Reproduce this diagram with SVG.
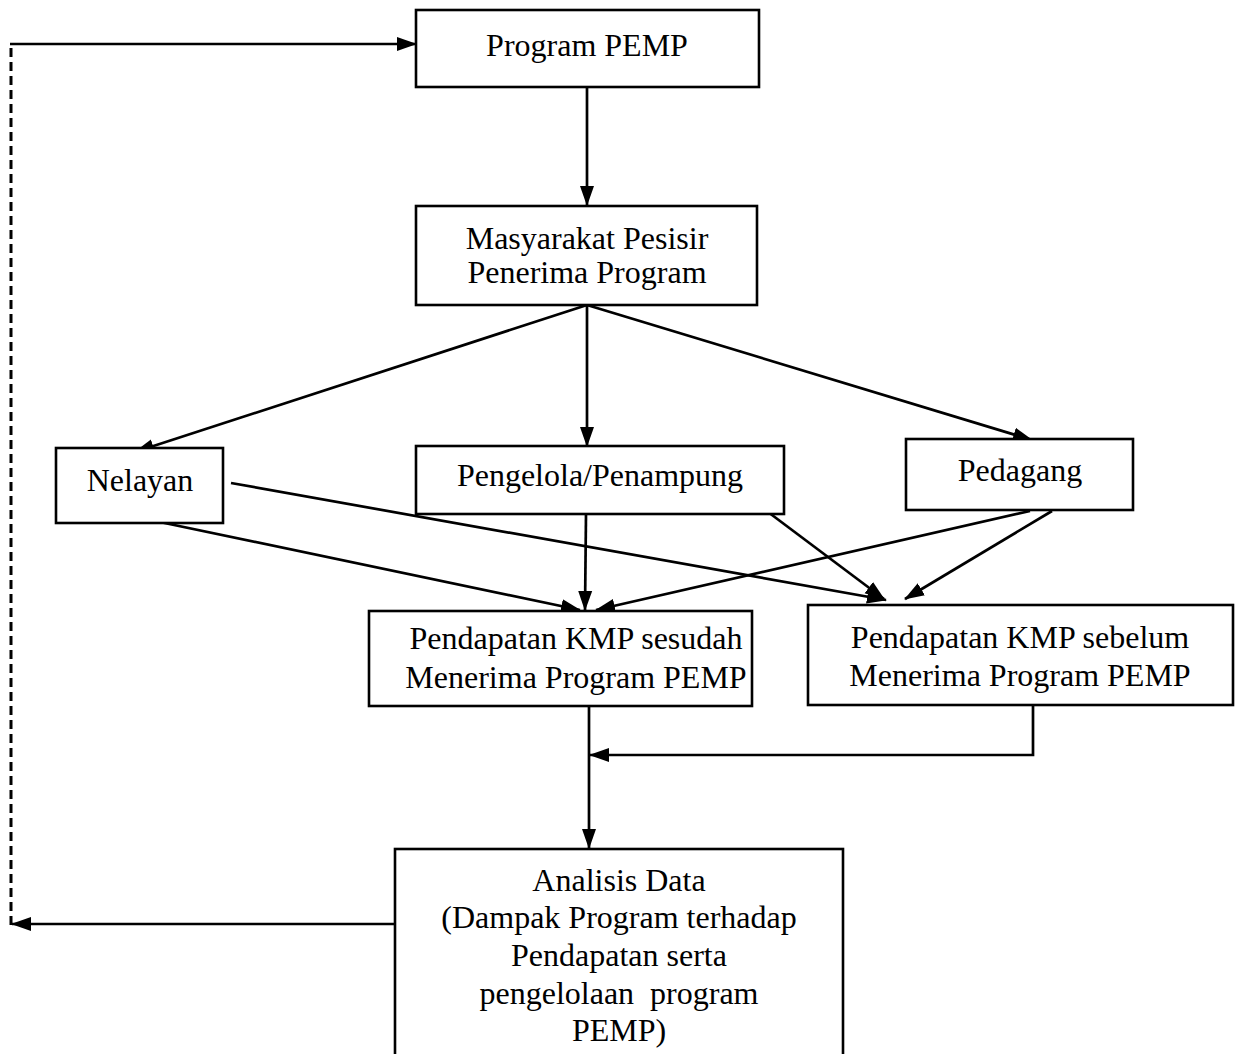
<svg xmlns="http://www.w3.org/2000/svg" width="1239" height="1054" viewBox="0 0 1239 1054">
<style>
.box{fill:#fff;stroke:#000;stroke-width:2.6}
.t{font-family:"Liberation Serif","Times New Roman",serif;font-size:32px;fill:#000;text-anchor:middle}
.c{fill:none;stroke:#000;stroke-width:2.7}
.d{fill:none;stroke:#000;stroke-width:3;stroke-dasharray:9 5}
</style>
<defs>
<marker id="ah" markerUnits="userSpaceOnUse" markerWidth="20" markerHeight="16" refX="19" refY="8" orient="auto">
<path d="M0,1 L20,8 L0,15 Z" fill="#000"/>
</marker>
</defs>
<rect width="1239" height="1054" fill="#fff"/>
<g id="connectors">
<path class="d" d="M11,925 V44"/>
<path class="c" d="M10,44 H416" marker-end="url(#ah)"/>
<path class="c" d="M395,924 H12" marker-end="url(#ah)"/>
<path class="c" d="M587,87 V205" marker-end="url(#ah)"/>
<path class="c" d="M587,305 L135,452" marker-end="url(#ah)"/>
<path class="c" d="M587,305 V446" marker-end="url(#ah)"/>
<path class="c" d="M587,305 L1032,440" marker-end="url(#ah)"/>
<path class="c" d="M155,521 L580,610" marker-end="url(#ah)"/>
<path class="c" d="M231,483 L886,600" marker-end="url(#ah)"/>
<path class="c" d="M586,514 L585,610" marker-end="url(#ah)"/>
<path class="c" d="M768,512 L884,599" marker-end="url(#ah)"/>
<path class="c" d="M1030,511 L596,610" marker-end="url(#ah)"/>
<path class="c" d="M1052,511 L905,599" marker-end="url(#ah)"/>
<path class="c" d="M589,706 V848" marker-end="url(#ah)"/>
<path class="c" d="M1033,705 V755 H590" marker-end="url(#ah)"/>
</g>
<g id="program-pemp">
<rect class="box" x="416" y="10" width="343" height="77"/>
<text class="t" x="587" y="56">Program PEMP</text>
</g>
<g id="masyarakat">
<rect class="box" x="416" y="206" width="341" height="99"/>
<text class="t" x="587" y="249">Masyarakat Pesisir</text>
<text class="t" x="587" y="283">Penerima Program</text>
</g>
<g id="nelayan">
<rect class="box" x="56" y="448" width="167" height="75"/>
<text class="t" x="140" y="491">Nelayan</text>
</g>
<g id="pengelola">
<rect class="box" x="416" y="446" width="368" height="68"/>
<text class="t" x="600" y="486">Pengelola/Penampung</text>
</g>
<g id="pedagang">
<rect class="box" x="906" y="439" width="227" height="71"/>
<text class="t" x="1020" y="481">Pedagang</text>
</g>
<g id="sesudah">
<rect class="box" x="369" y="611" width="383" height="95"/>
<text class="t" x="576" y="649">Pendapatan KMP sesudah</text>
<text class="t" x="576" y="688">Menerima Program PEMP</text>
</g>
<g id="sebelum">
<rect class="box" x="808" y="605" width="425" height="100"/>
<text class="t" x="1020" y="648">Pendapatan KMP sebelum</text>
<text class="t" x="1020" y="686">Menerima Program PEMP</text>
</g>
<g id="analisis">
<rect class="box" x="395" y="849" width="448" height="215"/>
<text class="t" x="619" y="891">Analisis Data</text>
<text class="t" x="619" y="928">(Dampak Program terhadap</text>
<text class="t" x="619" y="966">Pendapatan serta</text>
<text class="t" x="619" y="1004" xml:space="preserve">pengelolaan  program</text>
<text class="t" x="619" y="1041">PEMP)</text>
</g>
</svg>
